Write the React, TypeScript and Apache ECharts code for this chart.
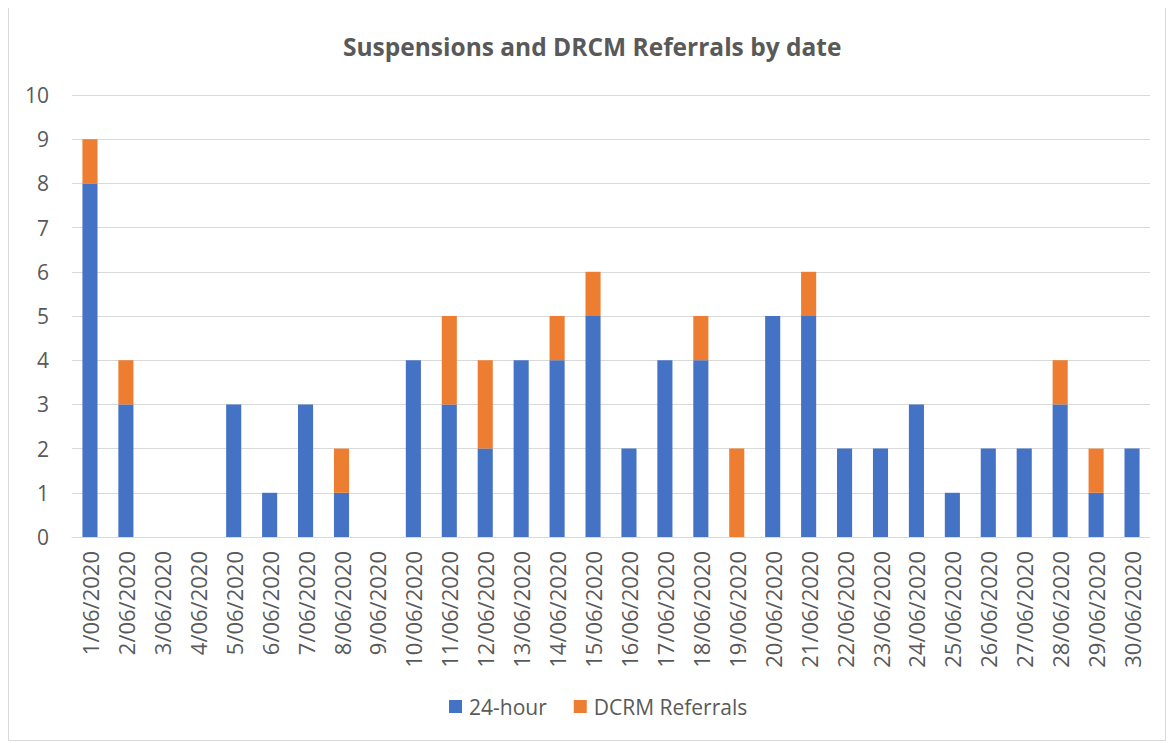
import React, { useEffect, useRef } from "react";
import * as echarts from "echarts";

const categories = Array.from({ length: 30 }, (_, i) => `${i + 1}/06/2020`);
const hour24 = [8, 3, 0, 0, 3, 1, 3, 1, 0, 4, 3, 2, 4, 4, 5, 2, 4, 4, 0, 5, 5, 2, 2, 3, 1, 2, 2, 3, 1, 2];
const dcrm = [1, 1, 0, 0, 0, 0, 0, 1, 0, 0, 2, 2, 0, 1, 1, 0, 0, 1, 2, 0, 1, 0, 0, 0, 0, 0, 0, 1, 1, 0];
const yTicks = { min: 0, max: 10, interval: 1 };

export default function App() {
  const ref = useRef<HTMLDivElement>(null);
  useEffect(() => {
    if (!ref.current) return;
    const chart = echarts.init(ref.current, null, { renderer: "svg" });
    const font = "'Open Sans', 'Noto Sans', sans-serif";
    chart.setOption({
      animation: false,
      backgroundColor: "#ffffff",
      title: {
        text: "Suspensions and DRCM Referrals by date",
        left: 329,
        top: 22,
        textStyle: { fontFamily: font, fontSize: 24.5, fontWeight: "bold", color: "#595959" },
      },
      legend: {
        bottom: 18,
        left: 435,
        itemWidth: 13,
        itemHeight: 13,
        itemGap: 27,
        itemStyle: { borderWidth: 0 },
        icon: "rect",
        textStyle: { fontFamily: font, fontSize: 21, color: "#595959", padding: [0, 0, 0, 2] },
        data: ["24-hour", "DCRM Referrals"],
      },
      grid: { left: 63, right: 15, top: 88, bottom: 203 },
      xAxis: {
        type: "category",
        data: categories,
        axisLine: { lineStyle: { color: "#d9d9d9", width: 1 } },
        axisTick: { show: false },
        axisLabel: {
          rotate: 90,
          interval: 0,
          margin: 14,
          fontFamily: font,
          fontSize: 22,
          color: "#595959",
        },
      },
      yAxis: {
        type: "value",
        min: yTicks.min,
        max: yTicks.max,
        interval: yTicks.interval,
        axisLine: { show: false },
        axisTick: { show: false },
        splitLine: { lineStyle: { color: "#d9d9d9", width: 1 } },
        axisLabel: { margin: 23, fontFamily: font, fontSize: 21, color: "#595959" },
      },
      series: [
        {
          name: "24-hour",
          type: "bar",
          stack: "a",
          data: hour24,
          barWidth: "42%",
          itemStyle: { color: "#4472c4" },
        },
        {
          name: "DCRM Referrals",
          type: "bar",
          stack: "a",
          data: dcrm,
          barWidth: "42%",
          itemStyle: { color: "#ed7d31" },
        },
      ],
    });
    return () => chart.dispose();
  }, []);
  return (
    <div
      style={{
        width: 1156,
        height: 733,
        border: "1px solid #d9d9d9",
        marginTop: -2,
      }}
    >
      <div ref={ref} style={{ width: 1156, height: 733 }} />
    </div>
  );
}
